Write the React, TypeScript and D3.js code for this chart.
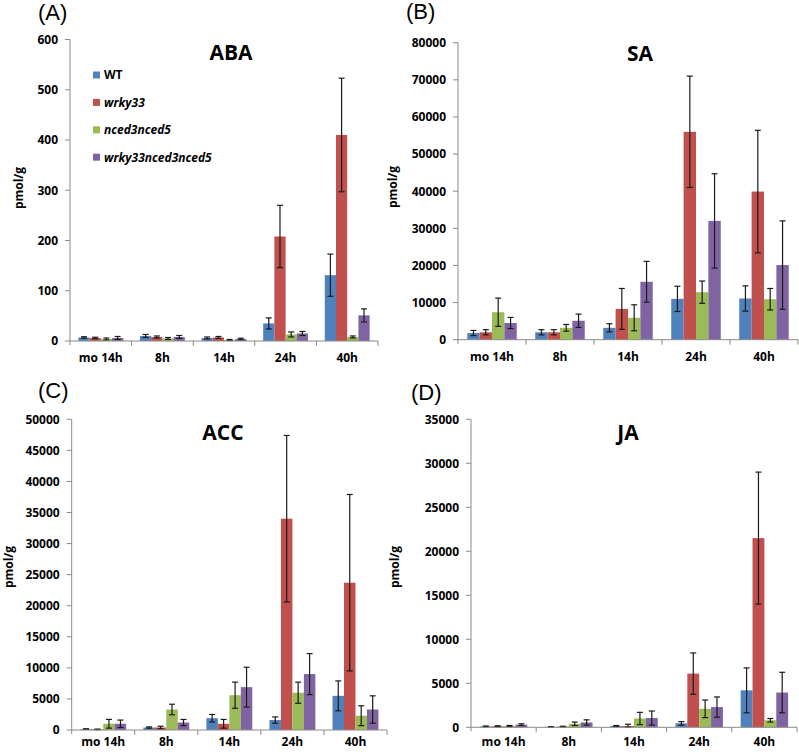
import React from "react";
import * as d3 from "d3";

const categories = ["mo 14h", "8h", "14h", "24h", "40h"];
const seriesNames = ["WT", "wrky33", "nced3nced5", "wrky33nced3nced5"];
const seriesItalic = [false, true, true, true];
const colors = ["#4F81BD", "#C0504D", "#9BBB59", "#8064A2"];

// ABA (pmol/g)
const abaWT = [7, 10, 6, 35, 131];
const abaWrky = [6, 8, 7, 208, 410];
const abaNced = [4, 5, 2, 13, 8];
const abaWN = [6, 8, 4, 15, 51];
const abaWTErr = [1.5, 3, 2, 11, 42];
const abaWrkyErr = [1.5, 2, 2, 62, 113];
const abaNcedErr = [2, 2, 1, 5, 2];
const abaWNErr = [3, 3, 1.5, 4, 13];
const abaTicks = [0, 100, 200, 300, 400, 500, 600];

// SA
const saWT = [1800, 2000, 3200, 11000, 11100];
const saWrky = [2000, 2000, 8300, 56000, 39900];
const saNced = [7400, 3200, 5900, 12800, 10900];
const saWN = [4500, 5100, 15600, 32000, 20100];
const saWTErr = [700, 700, 1100, 3400, 3400];
const saWrkyErr = [700, 700, 5500, 15000, 16500];
const saNcedErr = [3800, 900, 3500, 3000, 2900];
const saWNErr = [1500, 1800, 5500, 12700, 11900];
const saTicks = [0, 10000, 20000, 30000, 40000, 50000, 60000, 70000, 80000];

// ACC
const accWT = [150, 400, 1900, 1600, 5500];
const accWrky = [100, 400, 1000, 34000, 23700];
const accNced = [1000, 3300, 5600, 6000, 2300];
const accWN = [1000, 1200, 6900, 9000, 3300];
const accWTErr = [50, 100, 600, 500, 2400];
const accWrkyErr = [50, 200, 700, 13400, 14200];
const accNcedErr = [700, 850, 2100, 1700, 1600];
const accWNErr = [600, 500, 3200, 3300, 2200];
const accTicks = [0, 5000, 10000, 15000, 20000, 25000, 30000, 35000, 40000, 45000, 50000];

// JA
const jaWT = [100, 50, 150, 450, 4200];
const jaWrky = [120, 80, 150, 6100, 21500];
const jaNced = [150, 400, 1000, 2100, 800];
const jaWN = [300, 550, 1050, 2300, 3950];
const jaWTErr = [50, 30, 50, 200, 2550];
const jaWrkyErr = [60, 40, 200, 2350, 7500];
const jaNcedErr = [60, 200, 700, 1000, 200];
const jaWNErr = [100, 300, 800, 1150, 2300];
const jaTicks = [0, 5000, 10000, 15000, 20000, 25000, 30000, 35000];

const FONT = "'Open Sans', 'DejaVu Sans', sans-serif";
const AXIS = "#8a8a8a";

type PanelDef = {
  label: string;
  title: string;
  values: number[][];
  errors: number[][];
  ticks: number[];
  x0: number; x1: number; y0: number; yTop: number;
  labelX: number; labelY: number;
  titleX: number; titleY: number;
  ylabX: number; ylabY: number;
  xlabY: number;
  legend?: boolean;
};

const panels: PanelDef[] = [
  {
    label: "(A)", title: "ABA",
    values: [abaWT, abaWrky, abaNced, abaWN],
    errors: [abaWTErr, abaWrkyErr, abaNcedErr, abaWNErr],
    ticks: abaTicks,
    x0: 70, x1: 378, y0: 341, yTop: 39.5,
    labelX: 38, labelY: 20, titleX: 231, titleY: 60,
    ylabX: 23, ylabY: 188, xlabY: 362, legend: true,
  },
  {
    label: "(B)", title: "SA",
    values: [saWT, saWrky, saNced, saWN],
    errors: [saWTErr, saWrkyErr, saNcedErr, saWNErr],
    ticks: saTicks,
    x0: 458, x1: 798, y0: 339.7, yTop: 42.7,
    labelX: 406, labelY: 19, titleX: 640, titleY: 61,
    ylabX: 397, ylabY: 187, xlabY: 361,
  },
  {
    label: "(C)", title: "ACC",
    values: [accWT, accWrky, accNced, accWN],
    errors: [accWTErr, accWrkyErr, accNcedErr, accWNErr],
    ticks: accTicks,
    x0: 71.7, x1: 387, y0: 730, yTop: 419.3,
    labelX: 38, labelY: 398, titleX: 223, titleY: 440,
    ylabX: 13, ylabY: 567, xlabY: 746,
  },
  {
    label: "(D)", title: "JA",
    values: [jaWT, jaWrky, jaNced, jaWN],
    errors: [jaWTErr, jaWrkyErr, jaNcedErr, jaWNErr],
    ticks: jaTicks,
    x0: 471, x1: 797, y0: 727.3, yTop: 419.3,
    labelX: 411, labelY: 400, titleX: 628, titleY: 440,
    ylabX: 399, ylabY: 567, xlabY: 746,
  },
];

function Panel({ p }: { p: PanelDef }) {
  const maxTick = p.ticks[p.ticks.length - 1];
  const y = d3.scaleLinear().domain([0, maxTick]).range([p.y0, p.yTop]);
  const x = d3.scaleBand<string>().domain(categories).range([p.x0, p.x1]).paddingInner(0).paddingOuter(0);
  const w = x.bandwidth();
  const inner = d3.scaleBand<number>().domain([0, 1, 2, 3]).range([w * 0.136, w * 0.864]).padding(0);
  const bw = inner.bandwidth();
  const cap = 3;
  return (
    <g>
      <text x={p.labelX} y={p.labelY} fontFamily="'Liberation Sans', Arial, sans-serif" fontSize={22}>{p.label}</text>
      <text x={p.titleX} y={p.titleY} textAnchor="middle" fontFamily={FONT} fontWeight="bold" fontSize={21}>{p.title}</text>
      <text transform={`translate(${p.ylabX},${p.ylabY}) rotate(-90)`} textAnchor="middle" fontFamily={FONT} fontWeight="bold" fontSize={12}>pmol/g</text>
      {/* y axis */}
      <line x1={p.x0} x2={p.x0} y1={y(maxTick)} y2={p.y0 + 4} stroke={AXIS} strokeWidth={1} />
      {p.ticks.map((t) => (
        <g key={t}>
          <line x1={p.x0 - 5} x2={p.x0} y1={y(t)} y2={y(t)} stroke={AXIS} strokeWidth={1} />
          <text x={p.x0 - 12} y={y(t)} dy="0.36em" textAnchor="end" fontFamily={FONT} fontWeight="bold" fontSize={12}>{t}</text>
        </g>
      ))}
      {/* bars */}
      {categories.map((c, ci) => (
        <g key={c}>
          {p.values.map((vals, si) => {
            const bx = (x(c) as number) + (inner(si) as number);
            const v = vals[ci];
            return (
              <rect key={si} x={bx} y={y(v)} width={bw} height={p.y0 - y(v)} fill={colors[si]} />
            );
          })}
          {p.values.map((vals, si) => {
            const cx = (x(c) as number) + (inner(si) as number) + bw / 2;
            const v = vals[ci];
            const e = p.errors[si][ci];
            const lo = Math.max(0, v - e);
            const hi = v + e;
            return (
              <g key={"e" + si} stroke="#1a1a1a" strokeWidth={1.2}>
                <line x1={cx} x2={cx} y1={y(lo)} y2={y(hi)} />
                <line x1={cx - cap} x2={cx + cap} y1={y(hi)} y2={y(hi)} />
                <line x1={cx - cap} x2={cx + cap} y1={y(lo)} y2={y(lo)} />
              </g>
            );
          })}
        </g>
      ))}
      {/* x axis */}
      <line x1={p.x0} x2={p.x1} y1={p.y0} y2={p.y0} stroke={AXIS} strokeWidth={1} />
      {categories.map((c, i) => (
        <line key={"t" + i} x1={(x(c) as number) + w} x2={(x(c) as number) + w} y1={p.y0} y2={p.y0 + 5} stroke={AXIS} strokeWidth={1} />
      ))}
      {categories.map((c) => (
        <text key={"l" + c} x={(x(c) as number) + w / 2} y={p.xlabY} textAnchor="middle" fontFamily={FONT} fontWeight="bold" fontSize={12}>{c}</text>
      ))}
      {p.legend && seriesNames.map((s, i) => (
        <g key={s}>
          <rect x={93} y={75 + i * 27.4 - 3.5} width={7} height={7} fill={colors[i]} />
          <text x={104} y={75 + i * 27.4} dy="0.36em" fontFamily={FONT} fontWeight="bold" fontStyle={seriesItalic[i] ? "italic" : "normal"} fontSize={12}>{s}</text>
        </g>
      ))}
    </g>
  );
}

export default function App() {
  return (
    <svg width={799} height={752} style={{ position: "absolute", left: 0, top: 0, background: "#fff" }}>
      <rect x={0} y={0} width={799} height={752} fill="#fff" />
      {panels.map((p) => (
        <Panel key={p.label} p={p} />
      ))}
    </svg>
  );
}
